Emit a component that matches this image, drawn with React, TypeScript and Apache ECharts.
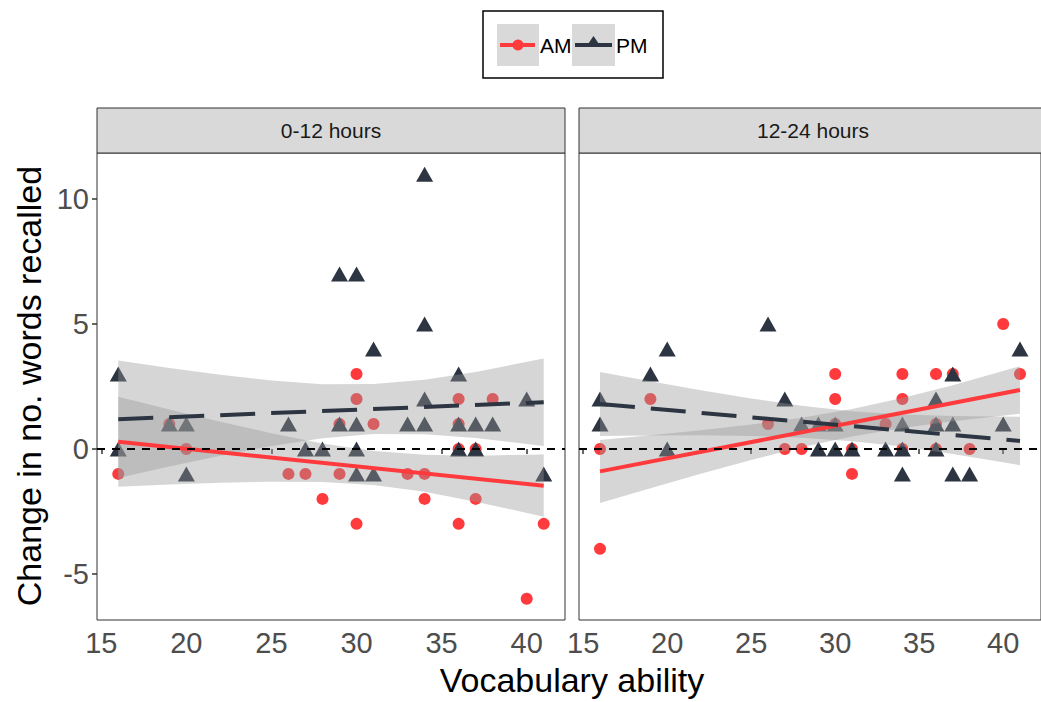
import React, { useEffect, useRef } from "react";
import * as echarts from "echarts";

const panelTitles = ["0-12 hours", "12-24 hours"];
const xTicks = [15, 20, 25, 30, 35, 40];
const yTicks = [-5, 0, 5, 10];

// 0-12 hours
const amEarly: number[][] = [
  [16, -1], [19, 1], [20, 0], [26, -1], [27, -1], [28, -2], [29, 1], [29, -1],
  [30, 3], [30, 2], [30, -3], [31, 1], [33, -1], [34, -1], [34, -2], [36, 2],
  [36, 1], [36, 0], [36, -3], [37, 0], [37, -2], [38, 2], [40, -6], [41, -3],
];
const pmEarly: number[][] = [
  [16, 3], [16, 0], [19, 1], [20, 1], [20, -1], [26, 1], [27, 0], [28, 0],
  [29, 7], [29, 1], [30, 7], [30, 1], [30, 0], [30, -1], [31, 4], [31, -1],
  [33, 1], [34, 11], [34, 5], [34, 2], [34, 1], [36, 3], [36, 1], [36, 0],
  [37, 1], [37, 0], [38, 1], [40, 2], [41, -1],
];
// 12-24 hours
const amLate: number[][] = [
  [16, 0], [16, -4], [19, 2], [26, 1], [27, 0], [28, 0], [30, 3], [30, 2],
  [30, 1], [31, 0], [31, -1], [33, 1], [34, 3], [34, 2], [34, 0], [36, 3],
  [36, 1], [36, 0], [37, 3], [38, 0], [40, 5], [41, 3],
];
const pmLate: number[][] = [
  [16, 2], [16, 1], [19, 3], [20, 4], [20, 0], [26, 5], [27, 2], [28, 1],
  [29, 1], [29, 0], [30, 1], [30, 0], [31, 0], [33, 0], [34, 1], [34, 0],
  [34, -1], [36, 2], [36, 1], [36, 0], [37, 3], [37, 1], [37, -1], [38, -1],
  [40, 1], [41, 4],
];

// fitted lines (read at x = 16 and x = 41)
const fitX = [16, 41];
const amEarlyFit = [0.29, -1.47];
const pmEarlyFit = [1.19, 1.87];
const amLateFit = [-0.9, 2.36];
const pmLateFit = [1.8, 0.32];

// confidence bands
const bandX = [16, 19, 22, 25, 28, 31, 34, 37, 41];
const amEarlyLo = [-1.51, -1.42, -1.35, -1.31, -1.32, -1.44, -1.71, -2.11, -2.72];
const amEarlyHi = [2.09, 1.58, 1.09, 0.63, 0.22, -0.08, -0.23, -0.27, -0.22];
const pmEarlyLo = [-1.16, -0.7, -0.27, 0.12, 0.43, 0.6, 0.59, 0.44, 0.12];
const pmEarlyHi = [3.54, 3.24, 2.97, 2.74, 2.59, 2.6, 2.77, 3.08, 3.62];
const amLateLo = [-2.16, -1.57, -0.99, -0.44, 0.07, 0.5, 0.84, 1.11, 1.41];
const amLateHi = [0.36, 0.55, 0.75, 0.98, 1.25, 1.6, 2.04, 2.55, 3.31];
const pmLateLo = [0.52, 0.54, 0.55, 0.52, 0.45, 0.31, 0.1, -0.2, -0.65];
const pmLateHi = [3.08, 2.71, 2.35, 2.02, 1.73, 1.51, 1.38, 1.32, 1.29];

const RED = "#ff3a3d";
const DARK = "#2c3541";
const FONT = "'Liberation Sans', Arial, sans-serif";

const GRID_LEFT = [97, 579];
const GRID_TOP = 153;
const GRID_W = 468;
const GRID_H = 467;
const X_MIN = 14.75;
const X_MAX = 42.25;
const Y_MIN = -6.85;
const Y_MAX = 11.85;

function bandSeries(idx: number, lo: number[], hi: number[]) {
  return {
    type: "custom",
    xAxisIndex: idx,
    yAxisIndex: idx,
    z: 3,
    silent: true,
    data: bandX.map((x, i) => [x, lo[i], hi[i]]),
    encode: { x: 0, y: [1, 2] },
    renderItem: (params: any, api: any) => {
      if (params.dataIndex !== 0) return null;
      const top = bandX.map((x, i) => api.coord([x, hi[i]]));
      const bottom = bandX.map((x, i) => api.coord([x, lo[i]])).reverse();
      return {
        type: "polygon",
        shape: { points: top.concat(bottom) },
        style: { fill: "rgba(153,153,153,0.4)" },
      };
    },
  };
}

function scatterSeries(idx: number, data: number[][], am: boolean) {
  return {
    type: "scatter",
    xAxisIndex: idx,
    yAxisIndex: idx,
    z: 2,
    silent: true,
    data,
    symbol: am ? "circle" : "triangle",
    symbolSize: am ? 12 : [17, 15],
    itemStyle: { color: am ? RED : DARK, opacity: 1 },
  };
}

function fitSeries(idx: number, fit: number[], am: boolean) {
  return {
    type: "line",
    xAxisIndex: idx,
    yAxisIndex: idx,
    z: 4,
    silent: true,
    symbol: "none",
    data: fitX.map((x, i) => [x, fit[i]]),
    lineStyle: {
      color: am ? RED : DARK,
      width: 4,
      type: am ? "solid" : [35, 16],
      cap: "butt",
    },
  };
}

function zeroSeries(idx: number) {
  return {
    type: "line",
    xAxisIndex: idx,
    yAxisIndex: idx,
    z: 2,
    silent: true,
    data: [],
    markLine: {
      silent: true,
      symbol: "none",
      label: { show: false },
      lineStyle: { color: "#000", width: 2, type: [8, 7] },
      data: [{ yAxis: 0 }],
    },
  };
}

export default function App() {
  const ref = useRef<HTMLDivElement>(null);
  useEffect(() => {
    if (!ref.current) return;
    const chart = echarts.init(ref.current, null, { renderer: "svg" });
    const grids = GRID_LEFT.map((l) => ({
      left: l,
      top: GRID_TOP,
      width: GRID_W,
      height: GRID_H,
      show: true,
      backgroundColor: "#fff",
      borderColor: "#333",
      borderWidth: 1,
    }));
    const xAxes = GRID_LEFT.map((_, i) => ({
      type: "value",
      gridIndex: i,
      min: X_MIN,
      max: X_MAX,
      splitLine: { show: false },
      axisLine: { show: false },
      axisTick: {
        show: true,
        length: 5,
        customValues: xTicks,
        lineStyle: { color: "#333", width: 1.5 },
      },
      axisLabel: {
        show: true,
        customValues: xTicks,
        margin: 8,
        fontSize: 29,
        color: "#4d4d4d",
        fontFamily: FONT,
      },
    }));
    const yAxes = GRID_LEFT.map((_, i) => ({
      type: "value",
      gridIndex: i,
      min: Y_MIN,
      max: Y_MAX,
      splitLine: { show: false },
      axisLine: { show: false },
      axisTick: {
        show: i === 0,
        length: 5,
        customValues: yTicks,
        lineStyle: { color: "#333", width: 1.5 },
      },
      axisLabel: {
        show: i === 0,
        customValues: yTicks,
        margin: 8,
        fontSize: 29,
        color: "#4d4d4d",
        fontFamily: FONT,
      },
    }));

    const graphics: any[] = [];
    panelTitles.forEach((t, i) => {
      graphics.push({
        type: "rect",
        shape: { x: GRID_LEFT[i], y: 108, width: GRID_W, height: GRID_TOP - 108 },
        style: { fill: "#d9d9d9", stroke: "#333", lineWidth: 1 },
        z: 10,
      });
      graphics.push({
        type: "text",
        x: GRID_LEFT[i] + GRID_W / 2,
        y: (108 + GRID_TOP) / 2,
        style: {
          text: t,
          fill: "#1a1a1a",
          font: `21px ${FONT}`,
          textAlign: "center",
          textVerticalAlign: "middle",
        },
        z: 11,
      });
    });
    // axis titles
    graphics.push({
      type: "text",
      x: 572,
      y: 680,
      style: {
        text: "Vocabulary ability",
        fill: "#000",
        font: `34px ${FONT}`,
        textAlign: "center",
        textVerticalAlign: "middle",
      },
    });
    graphics.push({
      type: "text",
      x: 29,
      y: 386,
      rotation: Math.PI / 2,
      style: {
        text: "Change in no. words recalled",
        fill: "#000",
        font: `34px ${FONT}`,
        textAlign: "center",
        textVerticalAlign: "middle",
      },
    });
    // legend
    graphics.push({
      type: "group",
      children: [
        {
          type: "rect",
          shape: { x: 483, y: 11, width: 180, height: 67 },
          style: { fill: "#fff", stroke: "#000", lineWidth: 1.5 },
        },
        { type: "rect", shape: { x: 497, y: 24, width: 42, height: 42 }, style: { fill: "#d9d9d9" } },
        { type: "rect", shape: { x: 572, y: 24, width: 43, height: 42 }, style: { fill: "#d9d9d9" } },
        {
          type: "line",
          shape: { x1: 500, y1: 45, x2: 535, y2: 45 },
          style: { stroke: RED, lineWidth: 4 },
        },
        { type: "circle", shape: { cx: 518, cy: 45, r: 5.5 }, style: { fill: RED } },
        {
          type: "line",
          shape: { x1: 575, y1: 45, x2: 612, y2: 45 },
          style: { stroke: DARK, lineWidth: 4 },
        },
        {
          type: "polygon",
          shape: { points: [[593.5, 36], [601, 47], [586, 47]] },
          style: { fill: DARK },
        },
        {
          type: "text",
          x: 540,
          y: 45,
          style: { text: "AM", fill: "#000", font: `21px ${FONT}`, textVerticalAlign: "middle" },
        },
        {
          type: "text",
          x: 616,
          y: 45,
          style: { text: "PM", fill: "#000", font: `21px ${FONT}`, textVerticalAlign: "middle" },
        },
      ],
    });

    chart.setOption({
      animation: false,
      backgroundColor: "#fff",
      textStyle: { fontFamily: FONT },
      grid: grids,
      xAxis: xAxes,
      yAxis: yAxes,
      graphic: graphics,
      series: [
        scatterSeries(0, amEarly, true),
        scatterSeries(0, pmEarly, false),
        scatterSeries(1, amLate, true),
        scatterSeries(1, pmLate, false),
        zeroSeries(0),
        zeroSeries(1),
        bandSeries(0, amEarlyLo, amEarlyHi),
        bandSeries(0, pmEarlyLo, pmEarlyHi),
        bandSeries(1, amLateLo, amLateHi),
        bandSeries(1, pmLateLo, pmLateHi),
        fitSeries(0, amEarlyFit, true),
        fitSeries(0, pmEarlyFit, false),
        fitSeries(1, amLateFit, true),
        fitSeries(1, pmLateFit, false),
      ],
    });
    return () => chart.dispose();
  }, []);
  return (
    <div
      ref={ref}
      style={{ position: "fixed", left: 0, top: 0, width: 1041, height: 702, background: "#fff" }}
    />
  );
}
